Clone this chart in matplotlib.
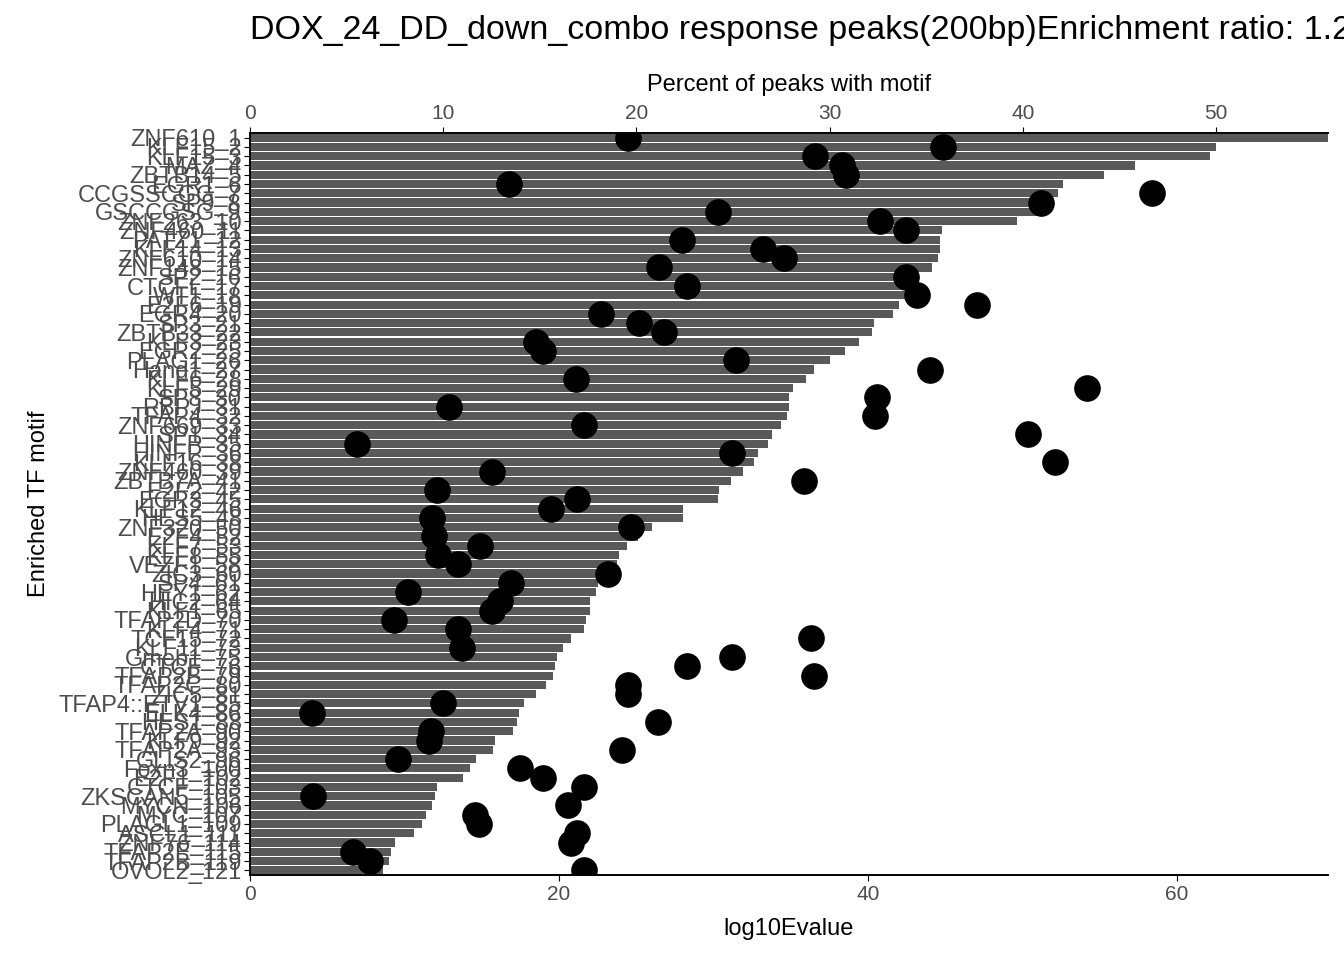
import matplotlib
matplotlib.use("Agg")
import matplotlib.pyplot as plt

plt.rcParams['font.family'] = ['Liberation Sans', 'DejaVu Sans']

motifs = ["ZNF610_1","KLF15_2","KLF15_3","MAZ_4","ZBTB14_5","EGR1_6","CCGSSCGG_7","SP9_8","GSCCGSG_9","ZNF263_10",
"ZNF460_11","PATZ1_12","KLF14_13","ZNF610_14","ZNF148_15","SP2_16","CTCFL_17","WT1_18","E2F6_19","EGR4_20",
"SP3_21","ZBTB33_22","KLF3_23","EGR2_25","PLAG1_26","Hand1_27","KLF6_28","KLF5_29","SP8_30","RBPJ_31",
"TFAP4_32","ZNF669_33","SP1_34","HINFP_35","HINFP_36","KLF16_38","ZNF460_39","ZBTB7A_41","E2F2_42","EGR3_45",
"KLF12_46","HES5_48","ZNF320_50","E2F4_52","KLF7_53","KLF8_55","VEZF1_58","ZIC3_60","SP4_61","HEY1_62",
"HIC2_64","KLF1_65","TFAP2D_70","KLF4_71","TCF15_72","KLF11_73","Gmeb1_75","CTCF_76","TFAP2B_79","TFAP2C_80",
"ZIC5_81","TFAP4::ETV1_85","ELK4_86","HES1_88","TFAP2A_90","KLF9_92","TFAP2A_93","GLIS2_96","Foxn3_100","E2F1_102",
"CTCF_103","ZKSCAN5_105","MYCN_106","MYC_107","PLAGL1_109","ASCL1_111","ZNF76_114","TFAP2E_115","TFAP2B_119","OVOL2_121"]

percent = [55.8,50.0,49.7,45.8,44.2,42.1,41.8,40.8,40.8,39.7,
35.8,35.7,35.7,35.6,35.3,34.6,34.3,33.9,33.6,33.3,
32.3,32.2,31.5,30.8,30.0,29.2,28.8,28.1,27.9,27.9,
27.8,27.5,27.0,26.8,26.3,26.1,25.5,24.9,24.3,24.2,
22.4,22.4,20.8,20.1,19.5,19.1,19.0,18.5,18.0,17.9,
17.6,17.6,17.4,17.3,16.6,16.2,15.9,15.8,15.7,15.3,
14.8,14.2,13.9,13.8,13.6,12.7,12.6,11.7,11.4,11.0,
9.7,9.6,9.4,9.1,8.9,8.5,7.5,7.3,7.2,6.9]

log10E = [24.5,44.9,36.6,38.3,38.6,16.8,58.4,51.2,30.3,40.8,
42.5,28.0,33.2,34.6,26.5,42.5,28.3,43.2,47.1,22.7,
25.2,26.8,18.5,19.0,31.5,44.0,21.1,54.2,40.6,12.9,
40.5,21.6,50.4,6.9,31.2,52.1,15.7,35.9,12.1,21.2,
19.5,11.8,24.7,11.9,14.9,12.2,13.5,23.2,16.9,10.2,
16.2,15.7,9.3,13.5,36.3,13.7,31.2,28.3,36.5,24.5,
24.5,12.5,4.0,26.4,11.7,11.6,24.1,9.6,17.5,19.0,
21.6,4.1,20.6,14.6,14.8,21.2,20.8,6.7,7.8,21.6]

grey = "#4D4D4D"
fig = plt.figure(figsize=(13.44, 9.6), dpi=100)
ax = fig.add_axes([250/1344, 85/960, 1078/1344, 742/960])
pos = list(range(len(motifs)))
ax.barh(pos, percent, height=0.88, color="#595959", zorder=1)
ax.set_ylim(len(motifs) - 0.5, -0.5)
ax.set_xlim(0, 55.8)
ax.set_yticks(pos)
ax.set_yticklabels(motifs, fontsize=17, color=grey)
ax.tick_params(axis="y", length=4, pad=2)
ax.set_ylabel("Enriched TF motif", fontsize=17, labelpad=6)

ax2 = ax.twiny()
ax2.scatter(log10E, pos, s=330, color="black", zorder=3)
ax2.set_xlim(0, 69.8)

ax.xaxis.set_ticks_position("top")
ax.xaxis.set_label_position("top")
ax.set_xticks([0, 10, 20, 30, 40, 50])
ax.tick_params(axis="x", labelsize=15, labelcolor=grey, length=4, top=True, bottom=False,
               labeltop=True, labelbottom=False)
ax.set_xlabel("Percent of peaks with motif", fontsize=17, labelpad=9)

ax2.xaxis.set_ticks_position("bottom")
ax2.xaxis.set_label_position("bottom")
ax2.set_xticks([0, 20, 40, 60])
ax2.tick_params(axis="x", labelsize=15, labelcolor=grey, length=4, top=False, bottom=True,
                labeltop=False, labelbottom=True)
ax2.set_xlabel("log10Evalue", fontsize=17, labelpad=10)

for a in (ax, ax2):
    a.spines["right"].set_visible(False)
    for s in ["top", "bottom", "left"]:
        a.spines[s].set_linewidth(1.2)

fig.text(250/1344, 1 - 30/960, "DOX_24_DD_down_combo response peaks(200bp)Enrichment ratio: 1.25",
         fontsize=24.5, ha="left", va="center")
fig.savefig("out.png", dpi=100)
